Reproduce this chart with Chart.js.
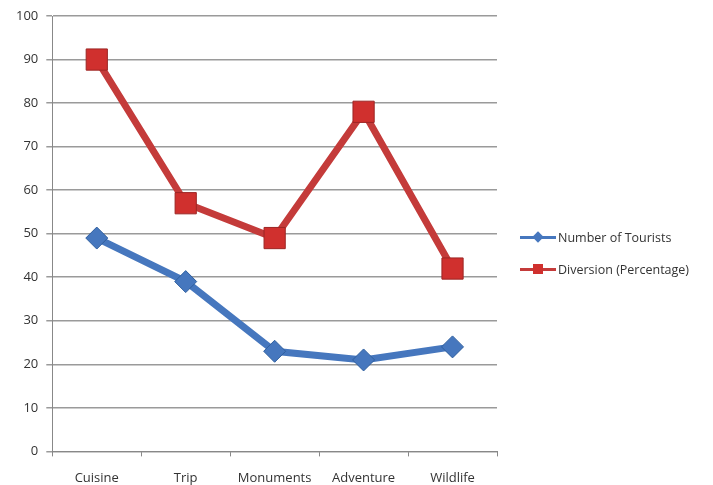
<!DOCTYPE html>
<html>
<head>
<meta charset="utf-8">
<script src="https://cdn.jsdelivr.net/npm/chart.js@4"></script>
<style>
  body { margin: 0; background: #fff; overflow: hidden; }
  #wrap { position: relative; width: 713px; height: 485px; overflow: hidden; }
  #legend { position: absolute; left: 520px; top: 221px; font-family: "Open Sans", sans-serif; font-size: 12.5px; color: #333; }
  .item { display: flex; align-items: center; height: 32px; }
  .sym { position: relative; width: 36px; height: 14px; margin-right: 2px; }
  .sym .ln { position: absolute; left: 0; right: 0; top: 6px; height: 2.5px; }
  .sym .mk { position: absolute; left: 13px; top: 2px; width: 10px; height: 10px; }
</style>
</head>
<body>
<div id="wrap">
  <canvas id="tourChart" width="713" height="500"></canvas>
  <div id="legend"></div>
</div>
<script>
// datos
const categories = ['Cuisine', 'Trip', 'Monuments', 'Adventure', 'Wildlife'];
const tourists = [49, 39, 23, 21, 24];
const diversion = [90, 57, 49, 78, 42];
const yTicks = [0, 10, 20, 30, 40, 50, 60, 70, 80, 90, 100];

const blue = '#4677BE';
const red = '#C43B3A';

const ctx = document.getElementById('tourChart').getContext('2d');
const tourChart = new Chart(ctx, {
    type: 'line',
    data: {
        labels: categories,
        datasets: [{
            label: 'Number of Tourists',
            data: tourists,
            borderColor: blue,
            backgroundColor: blue,
            borderWidth: 7,
            pointStyle: 'rectRot',
            pointRadius: 11,
            pointBorderWidth: 1,
            pointBorderColor: '#2f5f9e',
            tension: 0
        }, {
            label: 'Diversion (Percentage)',
            data: diversion,
            borderColor: red,
            backgroundColor: '#D0302E',
            borderWidth: 7,
            pointStyle: 'rect',
            pointRadius: 15,
            pointBorderWidth: 1,
            pointBorderColor: '#9c2624',
            tension: 0
        }]
    },
    options: {
        responsive: false,
        animation: false,
        layout: { padding: { top: 11, right: 216, bottom: 0, left: 8 } },
        plugins: {
            legend: { display: false },
            tooltip: { enabled: false }
        },
        scales: {
            x: {
                offset: true,
                grid: { offset: true, drawOnChartArea: false, drawTicks: true, tickLength: 5, color: '#888', lineWidth: 1 },
                border: { color: '#888', width: 1 },
                ticks: { color: '#333', font: { family: 'Open Sans', size: 13 }, padding: 14, maxRotation: 0 }
            },
            y: {
                min: 0,
                max: 100,
                afterBuildTicks: (axis) => { axis.ticks = yTicks.map(v => ({ value: v })); },
                grid: { color: '#9a9a9a', lineWidth: 1.5, tickLength: 6 },
                border: { color: '#888', width: 1 },
                ticks: { color: '#333', font: { family: 'Open Sans', size: 13 }, padding: 8 }
            }
        }
    }
});

// leyenda a la derecha: línea con marcador
const legend = document.getElementById('legend');
tourChart.data.datasets.forEach((ds, i) => {
    const item = document.createElement('div');
    item.className = 'item';
    const mkStyle = i === 0
        ? 'background:' + blue + ';transform:rotate(45deg) scale(0.8);'
        : 'background:' + ds.backgroundColor + ';';
    item.innerHTML = '<div class="sym"><div class="ln" style="background:' + ds.borderColor + '"></div>' +
        '<div class="mk" style="' + mkStyle + '"></div></div><span>' + ds.label + '</span>';
    legend.appendChild(item);
});
</script>
</body>
</html>
